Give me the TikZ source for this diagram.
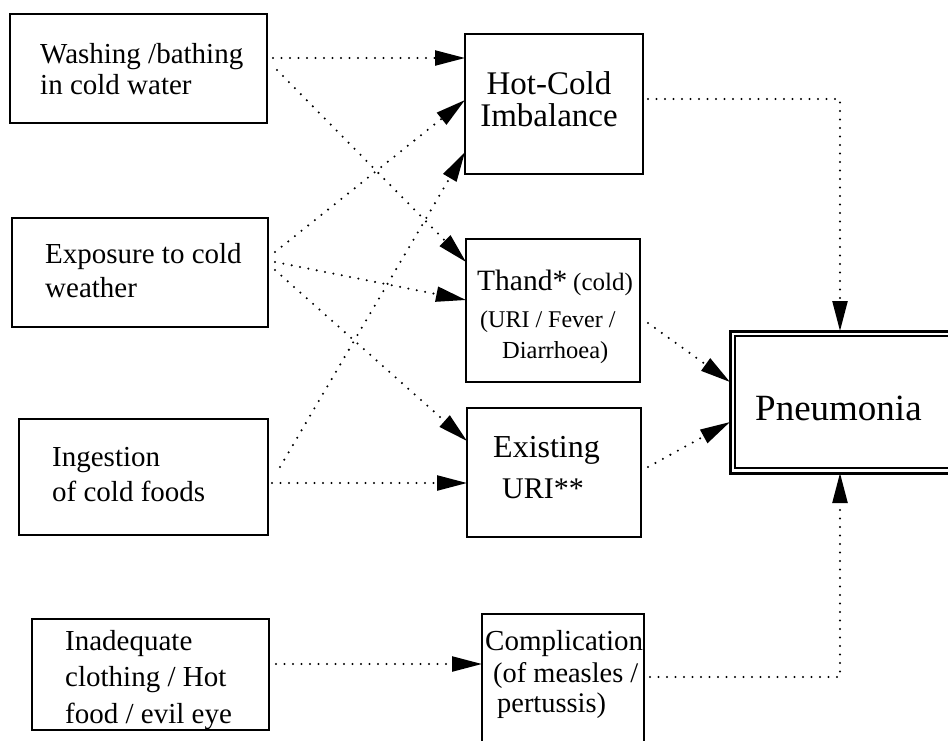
\documentclass[tikz,border=0pt]{standalone}
\usepackage{fontspec}
\setmainfont{Liberation Serif}
\usetikzlibrary{arrows.meta,calc}
\begin{document}
\begin{tikzpicture}[x=1pt,y=-1pt,
  box/.style={draw, line width=2.8pt, inner sep=0pt, outer sep=0pt},
  txt/.style={inner sep=0pt, anchor=base west, font=\fontsize{29}{34}\selectfont},
  conn/.style={line width=2.3pt, dash pattern=on 0pt off 8.5pt, line cap=round,
    -{Triangle[length=30pt,width=15pt]}}]
\useasboundingbox (0,0) rectangle (948,740);

% boxes
\node[box, minimum width=257pt, minimum height=109pt] (wash) at (138.5,68.5) {};
\node[box, minimum width=256pt, minimum height=109pt] (expo) at (140,272.5) {};
\node[box, minimum width=249pt, minimum height=116pt] (inge) at (143.5,477) {};
\node[box, minimum width=237pt, minimum height=111pt] (inad) at (150.5,674.5) {};
\node[box, minimum width=178pt, minimum height=140pt] (hot) at (554,104) {};
\node[box, minimum width=174pt, minimum height=143pt] (thand) at (553,310.5) {};
\node[box, minimum width=174pt, minimum height=129pt] (exist) at (554,472.5) {};
\node[box, minimum width=162pt, minimum height=131pt] (comp) at (563,679.5) {};
\node[draw, line width=3pt, inner sep=0pt, outer sep=0pt, minimum width=225pt, minimum height=142pt] (pneu) at (842.5,402) {};
\draw[line width=1.5pt] ([shift={(5,5)}]pneu.north west) rectangle ([shift={(5,-5)}]pneu.south east);

% texts
\node[txt] at (40,63) {Washing /bathing};
\node[txt] at (40,94) {in cold water};
\node[txt] at (45,263) {Exposure to cold};
\node[txt] at (45,297) {weather};
\node[txt] at (52,466) {Ingestion};
\node[txt] at (52,501) {of cold foods};
\node[txt] at (65,650) {Inadequate};
\node[txt] at (65,686) {clothing / Hot};
\node[txt] at (65,723) {food / evil eye};

\node[inner sep=0pt, anchor=base, font=\fontsize{33}{38}\selectfont] at (549,94) {Hot-Cold};
\node[inner sep=0pt, anchor=base, font=\fontsize{33}{38}\selectfont] at (549,126) {Imbalance};

\node[inner sep=0pt, anchor=base west, font=\fontsize{29.5}{34}\selectfont] at (477,290) {Thand*};
\node[inner sep=0pt, anchor=base west, font=\fontsize{25}{30}\selectfont] at (573,290) {(cold)};
\node[inner sep=0pt, anchor=base west, font=\fontsize{24}{28}\selectfont] at (480,327) {(URI / Fever /};
\node[inner sep=0pt, anchor=base west, font=\fontsize{24.5}{28}\selectfont] at (502,358) {Diarrhoea)};

\node[inner sep=0pt, anchor=base west, font=\fontsize{32}{36}\selectfont] at (493,457) {Existing};
\node[inner sep=0pt, anchor=base west, font=\fontsize{30}{34}\selectfont] at (502,498) {URI**};

\node[inner sep=0pt, anchor=base west, font=\fontsize{29}{34}\selectfont] at (485,650) {Complication};
\node[inner sep=0pt, anchor=base west, font=\fontsize{28.4}{34}\selectfont] at (493,682) {(of measles /};
\node[inner sep=0pt, anchor=base west, font=\fontsize{28.4}{34}\selectfont] at (497,712) {pertussis)};

\node[inner sep=0pt, anchor=base west, font=\fontsize{37}{42}\selectfont] at (755,420) {Pneumonia};

% connectors
\draw[conn] ([shift={(6,-10.5)}]wash.east) -- ([shift={(0,-46)}]hot.west);
\draw[conn] ([shift={(10,1.5)}]wash.east) -- ([shift={(0,23)}]thand.north west);
\draw[conn] ([shift={(7,-20.5)}]expo.east) -- ([shift={(0,-4)}]hot.west);
\draw[conn] ([shift={(7,-10.5)}]expo.east) -- ([shift={(0,-10.5)}]thand.west);
\draw[conn] ([shift={(7,-2.5)}]expo.east) -- ([shift={(0,33)}]exist.north west);
\draw[conn] ([shift={(12,-10)}]inge.east) -- ([shift={(0,-22)}]hot.south west);
\draw[conn] ([shift={(4,6)}]inge.east) -- ([shift={(0,10.5)}]exist.west);
\draw[conn] ([shift={(7,-10.5)}]inad.east) -- ([shift={(0,50)}]comp.north west);
\draw[conn] ([shift={(5,-5)}]hot.east) -| ([xshift=-2.5pt]pneu.north);
\draw[conn] ([shift={(8,12.5)}]thand.east) -- ([shift={(0,-20)}]pneu.west);
\draw[conn] ([shift={(7,-5.5)}]exist.east) -- ([shift={(0,20)}]pneu.west);
\draw[conn] ([shift={(6,-2.5)}]comp.east) -| ([xshift=-2.5pt]pneu.south);
\end{tikzpicture}
\end{document}
